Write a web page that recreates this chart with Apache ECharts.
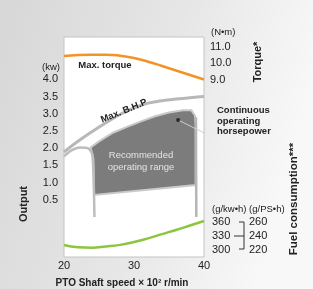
<!DOCTYPE html>
<html>
<head>
<meta charset="utf-8">
<script src="https://cdn.jsdelivr.net/npm/echarts@6/dist/echarts.min.js"></script>
<style>
html,body{margin:0;padding:0;width:313px;height:289px;overflow:hidden;}
#c{width:313px;height:289px;}
</style>
</head>
<body>
<div id="c"></div>
<script>
// ---- data ----
const speeds = [20, 22, 24, 26, 28, 30, 32, 34, 36, 38, 40];
const torque = [10.44, 10.5, 10.52, 10.52, 10.46, 10.32, 10.1, 9.84, 9.57, 9.3, 9.03];
const bhp = [1.89, 2.2, 2.48, 2.74, 2.98, 3.17, 3.31, 3.38, 3.43, 3.47, 3.5];
const fuel = [310.7, 306, 305, 307.5, 311, 317, 325, 334, 343, 352.5, 362];

const regionSpeed = [23.8, 25, 27, 29, 31, 33, 35, 37, 38.2, 38.7, 38.8, 38.8, 24.3, 24.2];
const regionKw = [2.02, 2.2, 2.45, 2.62, 2.78, 2.93, 3.04, 3.1, 3.1, 2.95, 2.7, 0.93, 0.64, 1.7];

const leftOutlineSpeed = [20, 21, 22.3, 23.4, 24.0, 24.2, 24.35];
const leftOutlineKw = [1.76, 1.93, 2.02, 2.0, 1.85, 1.3, 0];
const rightLegSpeed = [38.85, 38.9];
const rightLegKw = [2.9, 0];

const dotPoint = [36.3, 2.82];
const leaderEnd = [41.15, 2.33];

const xTicks = [20, 30, 40];
const kwTicks = [0.5, 1.0, 1.5, 2.0, 2.5, 3.0, 3.5, 4.0];
const torqueTicks = [9, 10, 11];
const fuelTicks = [300, 330, 360];
const fuelPsTicks = [220, 240, 260];

// ---- chart ----
const FONT = '"Liberation Sans", Arial, sans-serif';
const chart = echarts.init(document.getElementById('c'));

const zip = (a, b) => a.map((v, i) => [v, b[i]]);

function hiddenY(extra) {
  return Object.assign({
    type: 'value',
    gridIndex: 0,
    axisLine: { show: false },
    axisTick: { show: false },
    splitLine: { show: false },
    axisLabel: { color: '#222', fontSize: 11, fontFamily: FONT }
  }, extra);
}

function txt(text, x, y, opts) {
  opts = opts || {};
  return {
    type: 'text',
    x: x, y: y,
    rotation: opts.rotation || 0,
    z: 100,
    style: {
      text: text,
      x: 0, y: 0,
      fill: opts.fill || '#222',
      font: (opts.bold ? 'bold ' : '') + (opts.size || 10) + 'px ' + FONT,
      align: opts.align || 'center',
      verticalAlign: opts.valign || 'middle',
      lineHeight: opts.lineHeight
    }
  };
}

const option = {
  animation: false,
  backgroundColor: {
    type: 'linear', x: 0, y: 0, x2: 1, y2: 0.3,
    colorStops: [
      { offset: 0, color: '#d7d7d7' },
      { offset: 0.55, color: '#e6e6e6' },
      { offset: 1, color: '#f8f8f8' }
    ]
  },
  grid: {
    left: 64, top: 37, width: 140, height: 220,
    show: true, backgroundColor: '#ffffff', borderColor: '#c4c4c4', borderWidth: 1
  },
  xAxis: {
    type: 'value', min: 20, max: 40, interval: 10,
    axisLine: { show: false }, axisTick: { show: false }, splitLine: { show: false },
    axisLabel: {
      color: '#222', fontSize: 11, fontFamily: FONT, margin: 3,
      customValues: xTicks
    }
  },
  yAxis: [
    hiddenY({ position: 'left', min: -1.163, max: 5.233,
      axisLabel: { color: '#222', fontSize: 11, fontFamily: FONT, margin: 6,
        customValues: kwTicks, formatter: v => v.toFixed(1) } }),
    hiddenY({ position: 'right', min: -1.631, max: 11.583,
      axisLabel: { color: '#222', fontSize: 11, fontFamily: FONT, margin: 6,
        customValues: torqueTicks, formatter: v => v.toFixed(1) } }),
    hiddenY({ position: 'right', min: 285, max: 756.4,
      axisLabel: { color: '#222', fontSize: 11, fontFamily: FONT, margin: 8,
        customValues: fuelTicks } }),
    hiddenY({ position: 'right', offset: 39, min: 210, max: 524.3,
      axisLabel: { color: '#222', fontSize: 11, fontFamily: FONT, margin: 6,
        customValues: fuelPsTicks } })
  ],
  series: [
    {
      type: 'custom', xAxisIndex: 0, yAxisIndex: 0, z: 1,
      data: [[30, 2]],
      renderItem: function (params, api) {
        const pts = regionSpeed.map((s, i) => api.coord([s, regionKw[i]]));
        return {
          type: 'polygon',
          shape: { points: pts },
          style: { fill: '#7c7c7c', stroke: '#c9c9c9', lineWidth: 2 }
        };
      }
    },
    {
      type: 'line', yAxisIndex: 0, z: 2, symbol: 'none', smooth: 0.25,
      data: zip(leftOutlineSpeed, leftOutlineKw),
      lineStyle: { color: '#bdbdbd', width: 2.5 }
    },
    {
      type: 'line', yAxisIndex: 0, z: 2, symbol: 'none',
      data: zip(rightLegSpeed, rightLegKw),
      lineStyle: { color: '#b5b5b5', width: 2.5 }
    },
    {
      type: 'line', yAxisIndex: 0, z: 3, symbol: 'none', smooth: true,
      data: zip(speeds, bhp),
      lineStyle: { color: '#b8b8b8', width: 3 }
    },
    {
      type: 'line', yAxisIndex: 1, z: 3, symbol: 'none', smooth: true,
      data: zip(speeds, torque),
      lineStyle: { color: '#f39325', width: 2.5 }
    },
    {
      type: 'line', yAxisIndex: 2, z: 3, symbol: 'none', smooth: true,
      data: zip(speeds, fuel),
      lineStyle: { color: '#8cc63f', width: 2.5 }
    },
    {
      type: 'line', yAxisIndex: 0, z: 3, symbol: 'none', clip: false,
      data: [dotPoint, leaderEnd],
      lineStyle: { color: '#cfcfcf', width: 1 }
    },
    {
      type: 'scatter', yAxisIndex: 0, z: 4, symbolSize: 4,
      data: [dotPoint],
      itemStyle: { color: '#111' }
    }
  ],
  graphic: [
    txt('Max. torque', 105, 65, { bold: true, size: 9.5 }),
    txt('Max. B.H.P', 124, 111, { bold: true, size: 9.5, rotation: 22 * Math.PI / 180 }),
    txt('Recommended', 141, 155, { size: 9.5, fill: '#e4e4e4' }),
    txt('operating range', 141, 167, { size: 9.5, fill: '#e4e4e4' }),
    txt('Continuous\noperating\nhorsepower', 217, 121, { bold: true, size: 9.5, align: 'left', lineHeight: 10.5 }),
    txt('(kw)', 42, 67, { size: 9.5, align: 'left' }),
    txt('(N•m)', 211, 32, { size: 9.5, align: 'left' }),
    txt('(g/kw•h) (g/PS•h)', 212, 209, { size: 9.5, align: 'left' }),
    txt('Torque*', 258, 62, { bold: true, size: 11, rotation: Math.PI / 2 }),
    txt('Output', 24, 204, { bold: true, size: 11, rotation: Math.PI / 2 }),
    txt('Fuel consumption***', 294, 199, { bold: true, size: 11.5, rotation: Math.PI / 2 }),
    txt('PTO Shaft speed × 10² r/min', 122, 283, { bold: true, size: 10 }),
    {
      type: 'polyline', z: 100,
      shape: { points: [[239, 222], [244, 222], [244, 249], [239, 249]] },
      style: { stroke: '#333', lineWidth: 1, fill: null }
    },
    {
      type: 'line', z: 100,
      shape: { x1: 234, y1: 236, x2: 244, y2: 236 },
      style: { stroke: '#333', lineWidth: 1 }
    }
  ]
};
chart.setOption(option);
</script>
</body>
</html>
